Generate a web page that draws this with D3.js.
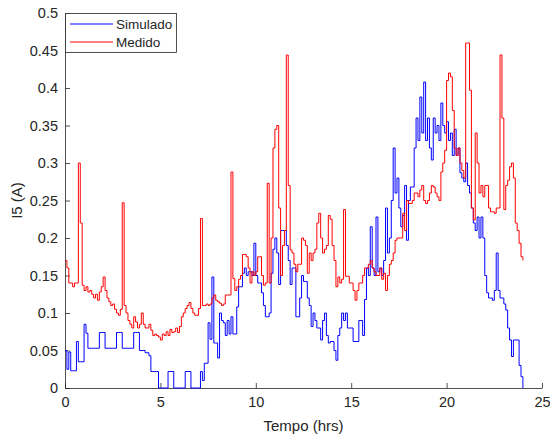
<!DOCTYPE html>
<html>
<head>
<meta charset="utf-8">
<script src="https://cdn.jsdelivr.net/npm/d3@7"></script>
<style>
  body { margin: 0; background: #fff; }
  text { font-family: "Liberation Sans", Arial, sans-serif; fill: #262626; }
</style>
</head>
<body>
<div id="chart-area"></div>
<script>
// sampling step of both series (hours)
var step = 0.1;

var simulado = [
    0.05, 0.025, 0.048, 0.023, 0.023, 0.023, 0.062, 0.035, 0.035, 0.035,
    0.085, 0.073, 0.053, 0.053, 0.053, 0.053, 0.053, 0.053, 0.074, 0.074,
    0.074, 0.053, 0.053, 0.053, 0.053, 0.053, 0.053, 0.074, 0.074, 0.074,
    0.053, 0.053, 0.053, 0.053, 0.053, 0.053, 0.074, 0.074, 0.074, 0.05,
    0.05, 0.05, 0.047, 0.047, 0.043, 0.022, 0.022, 0.022, 0.022, 0,
    0, 0, 0, 0, 0.022, 0.022, 0.022, 0, 0, 0,
    0, 0, 0, 0.022, 0.022, 0.022, 0, 0, 0, 0,
    0, 0.022, 0.01, 0.033, 0.033, 0.087, 0.065, 0.148, 0.06, 0.06,
    0.04, 0.1, 0.09, 0.087, 0.07, 0.09, 0.072, 0.095, 0.072, 0.072,
    0.108, 0.135, 0.135, 0.153, 0.16, 0.15, 0.155, 0.155, 0.15, 0.193,
    0.15, 0.14, 0.14, 0.127, 0.11, 0.095, 0.095, 0.1, 0.153, 0.185,
    0.2, 0.18, 0.138, 0.21, 0.21, 0.21, 0.19, 0.17, 0.138, 0.16,
    0.16, 0.095, 0.095, 0.12, 0.15, 0.142, 0.142, 0.12, 0.11, 0.082,
    0.1, 0.09, 0.08, 0.08, 0.064, 0.09, 0.1, 0.07, 0.06, 0.062,
    0.062, 0.05, 0.037, 0.07, 0.08, 0.1, 0.09, 0.1, 0.08, 0.08,
    0.08, 0.062, 0.062, 0.062, 0.09, 0.09, 0.07, 0.118, 0.16, 0.15,
    0.215, 0.16, 0.15, 0.228, 0.155, 0.16, 0.15, 0.17, 0.24, 0.18,
    0.2, 0.25, 0.32, 0.26, 0.28, 0.24, 0.215, 0.23, 0.27, 0.197,
    0.25, 0.268, 0.268, 0.32, 0.36, 0.33, 0.388, 0.34, 0.408, 0.33,
    0.36, 0.32, 0.304, 0.36, 0.34, 0.35, 0.33, 0.38, 0.35, 0.34,
    0.355, 0.33, 0.34, 0.31, 0.345, 0.31, 0.32, 0.287, 0.28, 0.275,
    0.3, 0.27, 0.26, 0.24, 0.22, 0.21, 0.228, 0.2, 0.228, 0.2,
    0.15, 0.127, 0.12, 0.12, 0.117, 0.13, 0.18, 0.13, 0.12, 0.12,
    0.112, 0.104, 0.08, 0.064, 0.042, 0.064, 0.064, 0.064, 0.03, 0.015,
    0
];

var medido = [
    0.17, 0.16, 0.14, 0.14, 0.135, 0.14, 0.14, 0.30, 0.22, 0.137,
    0.13, 0.135, 0.128, 0.13, 0.125, 0.12, 0.125, 0.117, 0.128, 0.135,
    0.148, 0.13, 0.12, 0.115, 0.11, 0.112, 0.105, 0.1, 0.097, 0.105,
    0.247, 0.11, 0.1, 0.09, 0.085, 0.08, 0.095, 0.088, 0.08, 0.085,
    0.1, 0.085, 0.08, 0.08, 0.085, 0.077, 0.07, 0.072, 0.07, 0.068,
    0.064, 0.072, 0.07, 0.075, 0.07, 0.078, 0.074, 0.075, 0.08, 0.074,
    0.082, 0.095, 0.1, 0.106, 0.11, 0.114, 0.106, 0.1, 0.097, 0.097,
    0.106, 0.226, 0.11, 0.11, 0.112, 0.11, 0.112, 0.12, 0.124, 0.117,
    0.115, 0.113, 0.11, 0.112, 0.124, 0.124, 0.124, 0.288, 0.146, 0.13,
    0.135, 0.145, 0.15, 0.178, 0.178, 0.175, 0.16, 0.14, 0.155, 0.15,
    0.155, 0.175, 0.175, 0.15, 0.137, 0.14, 0.273, 0.14, 0.2, 0.32,
    0.345, 0.35, 0.24, 0.15, 0.19, 0.21, 0.444, 0.27, 0.184, 0.18,
    0.165, 0.155, 0.165, 0.165, 0.2, 0.197, 0.19, 0.153, 0.18, 0.17,
    0.18, 0.185, 0.22, 0.233, 0.2, 0.18, 0.185, 0.19, 0.23, 0.225,
    0.19, 0.17, 0.135, 0.148, 0.14, 0.145, 0.238, 0.149, 0.149, 0.14,
    0.14, 0.13, 0.117, 0.13, 0.14, 0.14, 0.15, 0.16, 0.16, 0.165,
    0.17, 0.16, 0.155, 0.15, 0.15, 0.16, 0.145, 0.153, 0.13, 0.15,
    0.165, 0.17, 0.18, 0.197, 0.2, 0.2, 0.2, 0.233, 0.21, 0.25,
    0.246, 0.246, 0.25, 0.26, 0.26, 0.255, 0.264, 0.27, 0.25, 0.246,
    0.25, 0.26, 0.27, 0.268, 0.26, 0.255, 0.25, 0.288, 0.3, 0.317,
    0.41, 0.42, 0.415, 0.37, 0.32, 0.31, 0.32, 0.3, 0.29, 0.28,
    0.46, 0.46, 0.397, 0.24, 0.224, 0.34, 0.3, 0.26, 0.27, 0.255,
    0.27, 0.27, 0.24, 0.235, 0.235, 0.233, 0.24, 0.24, 0.444, 0.36,
    0.238, 0.27, 0.277, 0.295, 0.3, 0.28, 0.22, 0.21, 0.193, 0.175,
    0.17
];

var xTicks = [0, 5, 10, 15, 20, 25];
var yTicks = [0, 0.05, 0.1, 0.15, 0.2, 0.25, 0.3, 0.35, 0.4, 0.45, 0.5];
var seriesNames = ["Simulado", "Medido"];
var seriesColors = ["#0000ff", "#ff0000"];

var margin = {top: 13, right: 8, bottom: 48, left: 65};
var width = 550 - margin.left - margin.right;
var height = 436 - margin.top - margin.bottom;

var svg = d3.select("#chart-area")
    .append("svg")
    .attr("width", 550)
    .attr("height", 436);

var g = svg.append("g")
    .attr("transform", "translate(" + margin.left + ", " + margin.top + ")");

var x = d3.scaleLinear().domain([0, 25]).range([0, width]);
var y = d3.scaleLinear().domain([0, 0.5]).range([height, 0]);

// axes, MATLAB style: ticks inside, no box
var xAxisCall = d3.axisBottom(x).tickValues(xTicks)
    .tickSizeInner(-5).tickSizeOuter(0).tickPadding(9);
var yAxisCall = d3.axisLeft(y).tickValues(yTicks)
    .tickSizeInner(-5).tickSizeOuter(0).tickPadding(7)
    .tickFormat(d3.format("~g"));

var xAxisGroup = g.append("g").attr("class", "x axis")
    .attr("transform", "translate(0, " + height + ")")
    .call(xAxisCall);
var yAxisGroup = g.append("g").attr("class", "y axis")
    .call(yAxisCall);

g.selectAll(".axis path, .axis line").attr("stroke", "#262626").attr("stroke-width", 0.8);
g.selectAll(".axis text")
    .attr("font-size", "14.5px")
    .attr("font-family", "'Liberation Sans', Arial, sans-serif")
    .attr("fill", "#262626");

g.append("text")
    .attr("x", width / 2)
    .attr("y", height + 43)
    .attr("font-size", "15px")
    .attr("text-anchor", "middle")
    .text("Tempo (hrs)");

g.append("text")
    .attr("x", -(height / 2))
    .attr("y", -43)
    .attr("font-size", "15px")
    .attr("text-anchor", "middle")
    .attr("transform", "rotate(-90)")
    .text("I5 (A)");

var line = d3.line()
    .x((d, i) => x(i * step))
    .y((d) => y(d))
    .curve(d3.curveStepAfter);

[simulado, medido].forEach((data, k) => {
    g.append("path")
        .datum(data)
        .attr("fill", "none")
        .attr("stroke", seriesColors[k])
        .attr("stroke-width", 1)
        .attr("stroke-linejoin", "miter")
        .attr("d", line);
});

// legend
var legend = g.append("g");
legend.append("rect")
    .attr("x", 0.5).attr("y", 0.5)
    .attr("width", 111).attr("height", 39)
    .attr("fill", "#fff")
    .attr("stroke", "#262626")
    .attr("stroke-width", 0.8);

seriesNames.forEach((name, k) => {
    var ly = 11 + k * 18;
    legend.append("line")
        .attr("x1", 5).attr("x2", 48)
        .attr("y1", ly).attr("y2", ly)
        .attr("stroke", seriesColors[k])
        .attr("stroke-width", 1);
    legend.append("text")
        .attr("x", 51)
        .attr("y", ly)
        .attr("dy", "0.35em")
        .attr("font-size", "13.5px")
        .text(name);
});
</script>
</body>
</html>
